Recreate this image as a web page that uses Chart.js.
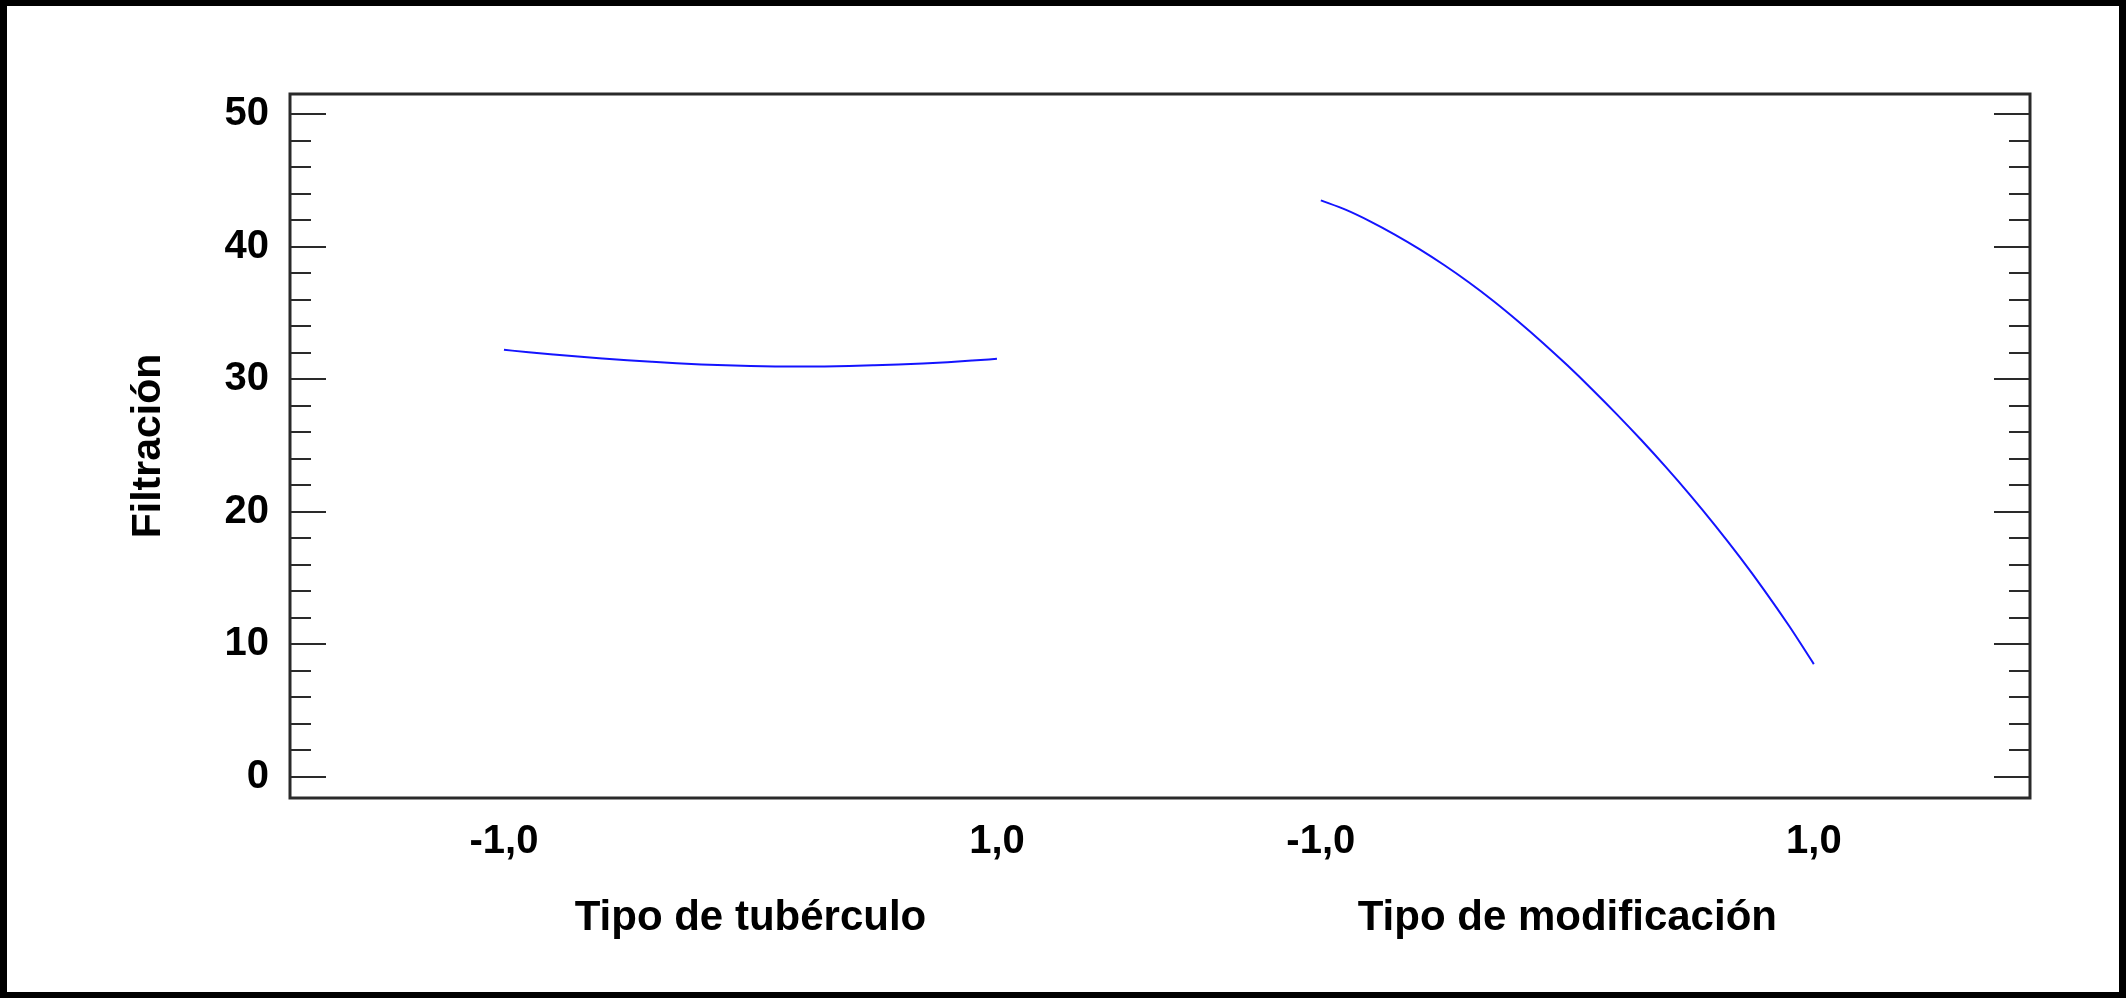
<!DOCTYPE html>
<html>
<head>
<meta charset="utf-8">
<script src="https://cdn.jsdelivr.net/npm/chart.js@4/dist/chart.umd.min.js"></script>
<style>
  html, body { margin: 0; padding: 0; background: #000; width: 2126px; height: 998px; overflow: hidden; }
  #plot { position: absolute; left: 7px; top: 6px; width: 2112px; height: 986px; background: #fff; }
</style>
</head>
<body>
<canvas id="plot" width="2112" height="986"></canvas>
<script>
// Coded factor levels (-1 .. 1) at which each effect curve is read
const factorLevels = [-1.0, -0.9, -0.8, -0.7, -0.6, -0.5, -0.4, -0.3, -0.2, -0.1, 0.0,
                       0.1, 0.2, 0.3, 0.4, 0.5, 0.6, 0.7, 0.8, 0.9, 1.0];

// Main effect of "Tipo de tubérculo" on Filtración
const tuberculoValues = [32.22, 32.04, 31.87, 31.71, 31.57, 31.44, 31.32, 31.21, 31.12, 31.05, 31.00,
                         30.97, 30.96, 30.97, 31.00, 31.05, 31.11, 31.19, 31.29, 31.41, 31.54];

// Main effect of "Tipo de modificación" on Filtración
const modificacionValues = [43.50, 42.80, 41.92, 40.92, 39.82, 38.62, 37.32, 35.91, 34.38, 32.76, 31.05,
                            29.25, 27.37, 25.41, 23.36, 21.21, 18.95, 16.57, 14.05, 11.37, 8.50];

const factorNames = ['Tipo de tubérculo', 'Tipo de modificación'];
const levelTickValues = [-1, 1];
const levelTickLabels = ['-1,0', '1,0'];
const yTickValues = [0, 10, 20, 30, 40, 50];
const yTitle = 'Filtración';

// Horizontal placement of the second factor panel on the shared x scale
const secondFactorShift = 3.314;

const FONT = '"Liberation Sans", Arial, Helvetica, sans-serif';
const LINE_BLUE = '#1414ff';
const AXIS_COLOR = '#2a2a2a';

const toPoints = (vals, shift) => factorLevels.map((lv, i) => ({ x: lv + shift, y: vals[i] }));

// x positions for the level labels of both factors
const xTickPositions = [];
const xTickText = new Map();
[0, secondFactorShift].forEach(shift => {
  levelTickValues.forEach((v, i) => {
    const p = +(v + shift).toFixed(4);
    xTickPositions.push(p);
    xTickText.set(p, levelTickLabels[i]);
  });
});

// Minor ticks every 2 units, majors every 10
const yMinorValues = [];
for (let v = 0; v <= 50; v += 2) yMinorValues.push(v);

const frameAndTicks = {
  id: 'frameAndTicks',
  afterDraw(chart) {
    const { ctx, chartArea: a, scales } = chart;
    const y = scales.y, x = scales.x;
    ctx.save();
    ctx.strokeStyle = AXIS_COLOR;
    ctx.lineWidth = 3;
    ctx.strokeRect(a.left, a.top, a.right - a.left, a.bottom - a.top);
    ctx.lineWidth = 2;
    ctx.beginPath();
    yMinorValues.forEach(v => {
      const py = Math.round(y.getPixelForValue(v));
      const len = yTickValues.includes(v) ? 36 : 21;
      ctx.moveTo(a.left, py); ctx.lineTo(a.left + len, py);
      ctx.moveTo(a.right, py); ctx.lineTo(a.right - len, py);
    });
    ctx.stroke();

    // factor names centred under each panel
    ctx.fillStyle = '#000';
    ctx.font = 'bold 42px ' + FONT;
    ctx.textAlign = 'center';
    ctx.textBaseline = 'alphabetic';
    [0, secondFactorShift].forEach((shift, i) => {
      ctx.fillText(factorNames[i], x.getPixelForValue(shift), 924);
    });
    ctx.restore();
  }
};

new Chart(document.getElementById('plot'), {
  type: 'line',
  data: {
    datasets: [
      { label: factorNames[0], data: toPoints(tuberculoValues, 0) },
      { label: factorNames[1], data: toPoints(modificacionValues, secondFactorShift) }
    ].map(d => Object.assign(d, {
      borderColor: LINE_BLUE, borderWidth: 2, pointRadius: 0, fill: false,
      cubicInterpolationMode: 'monotone'
    }))
  },
  options: {
    responsive: false,
    animation: false,
    events: [],
    layout: { padding: { top: 88, right: 89, left: 0, bottom: 0 } },
    plugins: { legend: { display: false }, tooltip: { enabled: false } },
    scales: {
      x: {
        type: 'linear',
        min: -1.868, max: 5.191,
        grid: { display: false, drawTicks: false },
        border: { display: false },
        afterBuildTicks: s => { s.ticks = xTickPositions.map(v => ({ value: v })); },
        afterFit: s => { s.height = 194; },
        ticks: {
          padding: 20,
          color: '#000',
          font: { family: FONT, size: 40, weight: 'bold' },
          maxRotation: 0,
          autoSkip: false,
          callback: v => xTickText.get(+(+v).toFixed(4)) || ''
        }
      },
      y: {
        type: 'linear',
        min: -1.608, max: 51.53,
        grid: { display: false, drawTicks: false },
        border: { display: false },
        afterBuildTicks: s => { s.ticks = yTickValues.map(v => ({ value: v })); },
        afterFit: s => { s.width = 283; },
        ticks: {
          padding: 21,
          color: '#000',
          font: { family: FONT, size: 40, weight: 'bold' },
          callback: v => String(v)
        },
        title: {
          display: true,
          text: yTitle,
          color: '#000',
          font: { family: FONT, size: 41, weight: 'bold' },
          padding: { top: 117, bottom: 0 }
        }
      }
    }
  },
  plugins: [frameAndTicks]
});
</script>
</body>
</html>
